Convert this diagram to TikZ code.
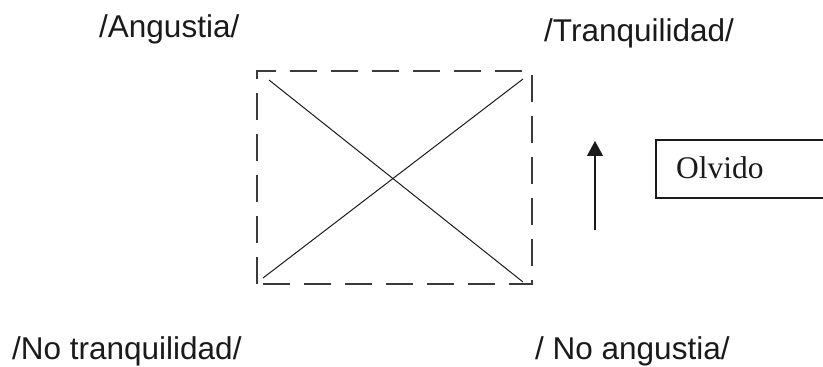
\documentclass[tikz,border=0pt]{standalone}
\usepackage{fontspec}
\setmainfont{Liberation Serif}
\setsansfont{Liberation Sans}
\usetikzlibrary{arrows.meta}
\definecolor{ink}{HTML}{1A1A1A}
\definecolor{dashgray}{HTML}{3A3A3A}
\begin{document}
\begin{tikzpicture}[x=1pt,y=1pt,
  lbl/.style={font=\sffamily\fontsize{31.5}{34}\selectfont, inner sep=0pt, anchor=base west, text=ink},
  dashbox/.style={draw=dashgray, line width=2pt, dash pattern=on 27pt off 14pt},
  cross/.style={draw=ink, line width=1pt},
  uparrow/.style={draw=ink, line width=1.2pt, -{Triangle[length=15pt,width=16pt]}},
  olvbox/.style={draw=ink, line width=1.5pt}]
\useasboundingbox (0,0) rectangle (823,367);
\clip (0,0) rectangle (823,367);
% labels
\node[lbl] (ang) at (99,329) {/Angustia/};
\node[lbl] (tra) at (544,325) {/Tranquilidad/};
\node[lbl] (notra) at (12,7) {/No tranquilidad/};
\node[lbl] (noang) at (535,7) {/ No angustia/};
% dashed square
\coordinate (bl) at (257,83);
\coordinate (tr) at (532,296);
\path[dashbox] (bl) rectangle (tr);
% diagonals
\coordinate (d1a) at (269,287);
\coordinate (d1b) at (523,85);
\coordinate (d2a) at (263,89);
\coordinate (d2b) at (523,288);
\path[cross] (d1a) -- (d1b);
\path[cross] (d2a) -- (d2b);
% arrow
\coordinate (arrS) at (595,137);
\coordinate (arrE) at (595,226);
\path[uparrow] (arrS) -- (arrE);
% Olvido box
\coordinate (obl) at (656,169);
\coordinate (otr) at (840,227);
\path[olvbox] (obl) rectangle (otr);
\node[font=\rmfamily\fontsize{31.5}{34}\selectfont, inner sep=0pt, anchor=base west, text=ink] (olv) at (676,188) {Olvido};
\end{tikzpicture}
\end{document}
